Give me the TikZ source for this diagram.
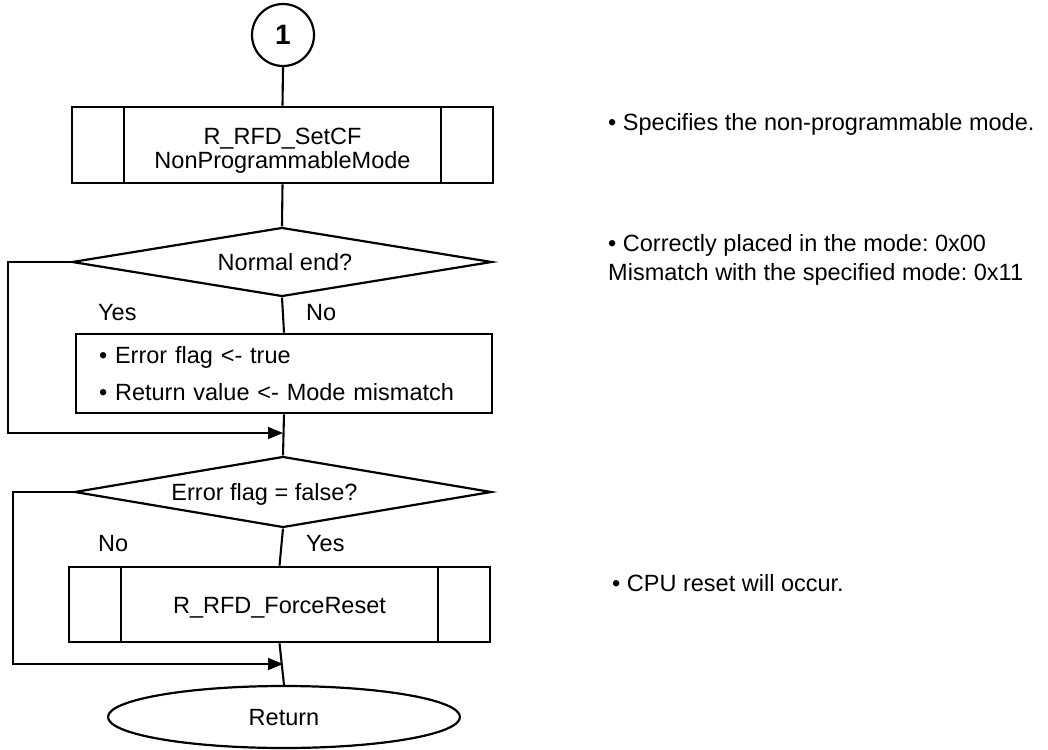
\documentclass[tikz,border=0pt]{standalone}
\usepackage{fontspec}
\setmainfont{Liberation Sans}
\usetikzlibrary{shapes.geometric,arrows.meta}
\begin{document}
\begin{tikzpicture}[x=1pt,y=-1pt,
  every node/.style={font=\fontsize{23.5}{24}\selectfont\frenchspacing, inner sep=0pt},
  shapeline/.style={draw=black, line width=2.6pt},
  subproc/.style={shapeline, rectangle, align=center, path picture={
     \draw[line width=2.6pt] ([xshift=52pt]path picture bounding box.north west) -- ([xshift=52pt]path picture bounding box.south west);
     \draw[line width=2.6pt] ([xshift=-52pt]path picture bounding box.north east) -- ([xshift=-52pt]path picture bounding box.south east);}},
  procbox/.style={shapeline, rectangle},
  decision/.style={shapeline, diamond, shape aspect=6, line width=2.2pt},
  terminal/.style={shapeline, ellipse, line width=2.2pt},
  connector/.style={shapeline, circle, line width=2.2pt},
  flow/.style={draw=black, line width=2.1pt},
  loopline/.style={draw=black, line width=1.4pt},
  tip/.style={-{Triangle[length=15pt,width=12pt]}},
  branch/.style={anchor=base west},
  note/.style={anchor=base west}
]
\useasboundingbox (0,0) rectangle (1048,749);

% main flow
\node[connector, minimum size=62pt, font=\fontsize{28}{28}\selectfont\bfseries] (start) at (283,35) {1};
\node[subproc, minimum width=421pt, minimum height=76pt, text height=51pt, text depth=5pt] (setcf) at (282.5,145)
  {R\_RFD\_SetCF\\NonProgrammableMode};
\node[decision, minimum width=420pt, minimum height=69pt, text height=16pt, text depth=0pt] (normal) at (282,262)
  {\hspace*{6pt}Normal end?};
\node[procbox, minimum width=416pt, minimum height=79pt, inner xsep=23pt, text width=370pt, align=left] (err) at (284,373.5)
  {• Error flag <- true\\[13.5pt]• Return value <- Mode mismatch};
\node[decision, minimum width=417pt, minimum height=71pt, text height=16pt, text depth=0pt] (flag) at (283,492)
  {Error flag = false?\hspace*{37pt}};
\node[subproc, minimum width=421pt, minimum height=75pt, text height=17pt, text depth=0pt] (reset) at (279.5,604.5)
  {R\_RFD\_ForceReset};
\node[terminal, minimum width=352pt, minimum height=62pt, text height=17pt, text depth=0pt] (ret) at (284,717)
  {Return};

% merge points on the main line
\coordinate (m1) at (283,433);
\coordinate (m2) at (283,664);

% vertical connectors
\draw[flow] (start.south) -- (setcf.north);
\draw[flow] (setcf.south) -- (normal.north);
\draw[flow] (normal.south) -- (err.north);
\draw[flow] (err.south) -- (flag.north);
\draw[flow] (flag.south) -- (reset.north);
\draw[flow] (reset.south) -- (ret.north);

% bypass branches
\draw[loopline, tip] (normal.west) -- (8,262) |- (m1);
\draw[loopline, tip] (flag.west) -- (13,492) |- (m2);

% branch labels
\node[branch] (yes1) at (98,320) {Yes};
\node[branch] (no1) at (306,320) {No};
\node[branch] (no2) at (98,551.7) {No};
\node[branch] (yes2) at (306,551.7) {Yes};

% side notes
\node[note] (n1) at (608,130) {• Specifies the non-programmable mode.};
\node[note] (n2) at (608,251.7) {• Correctly placed in the mode: 0x00};
\node[note] (n3) at (608,280) {Mismatch with the specified mode: 0x11};
\node[note] (n4) at (612,591.7) {• CPU reset will occur.};
\end{tikzpicture}
\end{document}
